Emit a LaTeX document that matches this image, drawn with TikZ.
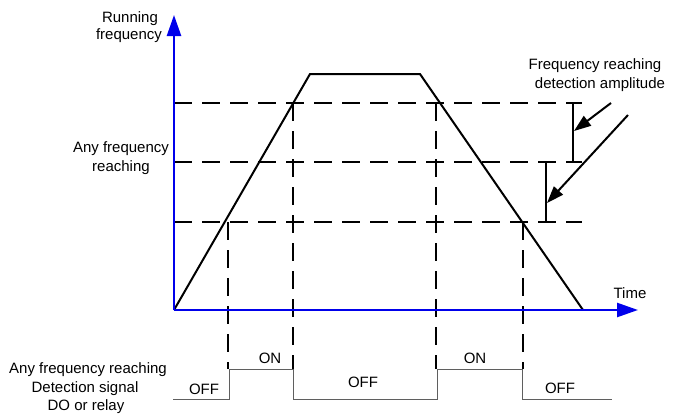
\documentclass[tikz,border=0pt]{standalone}
\usepackage{fontspec}
\setmainfont{Liberation Sans}
\usetikzlibrary{arrows.meta}
\definecolor{axisblue}{RGB}{0,0,235}
\definecolor{sigGray}{RGB}{95,95,95}
\begin{document}
\begin{tikzpicture}[x=1pt,y=-1pt,
  lbl/.style={font=\fontsize{15}{17}\selectfont, inner sep=0pt, anchor=base},
  axis/.style={draw=axisblue, line width=2.5pt, -{Triangle[length=21pt,width=14pt]}},
  guide/.style={line width=2.5pt, dash pattern=on 18pt off 10pt},
  ramp/.style={line width=2pt, line join=miter},
  sig/.style={line width=1pt, draw=sigGray},
  pointer/.style={line width=2pt, -{Triangle[length=17pt,width=12pt]}},
  bar/.style={line width=2pt}]
\useasboundingbox (0,0) rectangle (673,415);

% key points
\coordinate (O) at (174,310);
\coordinate (Ytip) at (174,15);
\coordinate (Xtip) at (638,310);
\coordinate (P1) at (310,74);
\coordinate (P2) at (420,74);
\coordinate (E) at (583,310);

% horizontal guide levels
\coordinate (H1a) at (174,103); \coordinate (H1b) at (582,103);
\coordinate (H2a) at (174,162); \coordinate (H2b) at (582,162);
\coordinate (H3a) at (174,222); \coordinate (H3b) at (582,222);
\draw[guide] (H1a) -- (H1b);
\draw[guide] (H2a) -- (H2b);
\draw[guide] (H3a) -- (H3b);

% vertical guides
\coordinate (V1a) at (228,222); \coordinate (V1b) at (228,369);
\coordinate (V2a) at (293,103); \coordinate (V2b) at (293,369);
\coordinate (V3a) at (436,103); \coordinate (V3b) at (436,369);
\coordinate (V4a) at (523,222); \coordinate (V4b) at (523,369);
\draw[guide] (V1a) -- (V1b);
\draw[guide] (V2a) -- (V2b);
\draw[guide] (V3a) -- (V3b);
\draw[guide] (V4a) -- (V4b);

% frequency profile
\draw[ramp] (O) -- (P1) -- (P2) -- (E);

% amplitude bars
\coordinate (B1a) at (573,103); \coordinate (B1b) at (573,162);
\coordinate (B2a) at (546,162); \coordinate (B2b) at (546,222);
\draw[bar] (B1a) -- (B1b);
\draw[bar] (B2a) -- (B2b);

% pointers
\coordinate (A1s) at (611,103); \coordinate (A1e) at (574,131);
\coordinate (A2s) at (628,115); \coordinate (A2e) at (547,203);
\draw[pointer] (A1s) -- (A1e);
\draw[pointer] (A2s) -- (A2e);

% axes
\draw[axis] (O) -- (Ytip);
\draw[axis] (O) -- (Xtip);

% output signal
\coordinate (S0) at (173,399);
\coordinate (S1) at (229,399); \coordinate (S2) at (229,369);
\coordinate (S3) at (293,369); \coordinate (S4) at (293,399);
\coordinate (S5) at (437,399); \coordinate (S6) at (437,369);
\coordinate (S7) at (522,369); \coordinate (S8) at (522,399);
\coordinate (S9) at (612,399);
\draw[sig] (S0) -- (S1) -- (S2) -- (S3) -- (S4) -- (S5) -- (S6) -- (S7) -- (S8) -- (S9);

% labels
\node[lbl] (run1) at (130,23) {Running};
\node[lbl] (run2) at (129,39) {frequency};
\node[lbl] (any1) at (121,152) {Any frequency};
\node[lbl] (any2) at (121,171) {reaching};
\node[lbl] (fra1) at (595,69) {Frequency reaching};
\node[lbl] (fra2) at (600,88) {detection amplitude};
\node[lbl] (time) at (630,298) {Time};
\node[lbl] (do1) at (88,373) {Any frequency reaching};
\node[lbl] (do2) at (85,392) {Detection signal};
\node[lbl] (do3) at (86,410) {DO or relay};
\node[lbl] (on1) at (270,363) {ON};
\node[lbl] (off1) at (204,394) {OFF};
\node[lbl] (off2) at (363,387) {OFF};
\node[lbl] (on2) at (475,363) {ON};
\node[lbl] (off3) at (560,393) {OFF};
\end{tikzpicture}
\end{document}
